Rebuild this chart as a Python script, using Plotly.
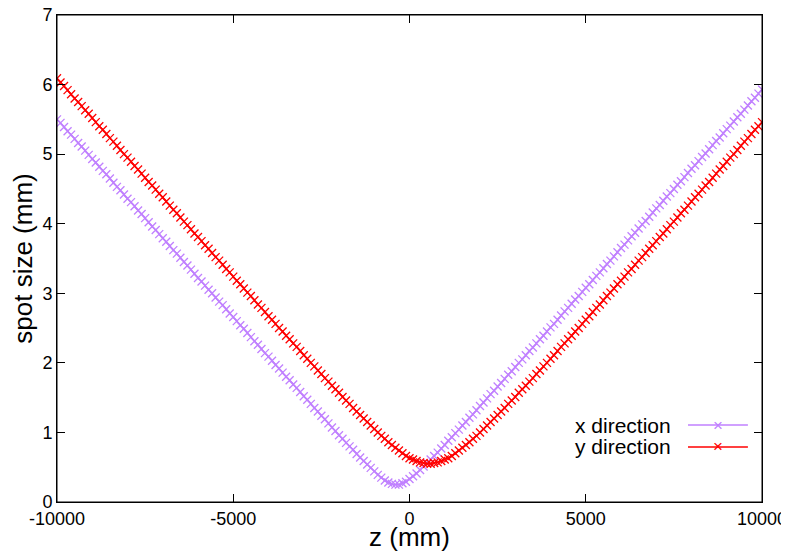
"""
Beam spot size along z for the x and y directions (gnuplot-style look).
"""

import plotly.graph_objects as go

# ---------------------------------------------------------------------
# Data: z sample positions (mm) and spot sizes (mm)
# ---------------------------------------------------------------------

z_mm = list(range(-10000, 10001, 100))

spot_x = [
    5.50, 5.45, 5.39, 5.33, 5.28, 5.22, 5.16, 5.11, 5.05, 4.99,
    4.93, 4.88, 4.82, 4.76, 4.71, 4.65, 4.59, 4.53, 4.48, 4.42,
    4.36, 4.31, 4.25, 4.19, 4.14, 4.08, 4.02, 3.96, 3.91, 3.85,
    3.79, 3.74, 3.68, 3.62, 3.57, 3.51, 3.45, 3.40, 3.34, 3.28,
    3.22, 3.17, 3.11, 3.05, 3.00, 2.94, 2.88, 2.83, 2.77, 2.71,
    2.66, 2.60, 2.54, 2.49, 2.43, 2.37, 2.31, 2.26, 2.20, 2.14,
    2.09, 2.03, 1.97, 1.92, 1.86, 1.80, 1.75, 1.69, 1.64, 1.58,
    1.52, 1.47, 1.41, 1.35, 1.30, 1.24, 1.19, 1.13, 1.07, 1.02,
    0.96, 0.91, 0.85, 0.80, 0.75, 0.69, 0.64, 0.59, 0.54, 0.49,
    0.44, 0.39, 0.35, 0.31, 0.28, 0.26, 0.25,
    0.25, 0.27, 0.29, 0.33, 0.37, 0.41, 0.46, 0.51, 0.56, 0.61,
    0.66, 0.71, 0.77, 0.82, 0.88, 0.93, 0.99, 1.04, 1.10, 1.15,
    1.21, 1.26, 1.32, 1.38, 1.43, 1.49, 1.55, 1.60, 1.66, 1.71,
    1.77, 1.83, 1.88, 1.94, 2.00, 2.05, 2.11, 2.17, 2.22, 2.28,
    2.34, 2.39, 2.45, 2.51, 2.56, 2.62, 2.68, 2.74, 2.79, 2.85,
    2.91, 2.96, 3.02, 3.08, 3.13, 3.19, 3.25, 3.30, 3.36, 3.42,
    3.47, 3.53, 3.59, 3.65, 3.70, 3.76, 3.82, 3.87, 3.93, 3.99,
    4.04, 4.10, 4.16, 4.22, 4.27, 4.33, 4.39, 4.44, 4.50, 4.56,
    4.61, 4.67, 4.73, 4.79, 4.84, 4.90, 4.96, 5.01, 5.07, 5.13,
    5.19, 5.24, 5.30, 5.36, 5.41, 5.47, 5.53, 5.58, 5.64, 5.70,
    5.76, 5.81, 5.87, 5.93,
]

spot_y = [
    6.09, 6.03, 5.98, 5.92, 5.86, 5.80, 5.75, 5.69, 5.63, 5.58,
    5.52, 5.46, 5.40, 5.35, 5.29, 5.23, 5.18, 5.12, 5.06, 5.00,
    4.95, 4.89, 4.83, 4.78, 4.72, 4.66, 4.60, 4.55, 4.49, 4.43,
    4.38, 4.32, 4.26, 4.20, 4.15, 4.09, 4.03, 3.98, 3.92, 3.86,
    3.81, 3.75, 3.69, 3.64, 3.58, 3.52, 3.47, 3.41, 3.35, 3.30,
    3.24, 3.18, 3.13, 3.07, 3.01, 2.96, 2.90, 2.84, 2.79, 2.73,
    2.67, 2.62, 2.56, 2.50, 2.45, 2.39, 2.34, 2.28, 2.23, 2.17,
    2.11, 2.06, 2.00, 1.95, 1.89, 1.84, 1.78, 1.73, 1.67, 1.62,
    1.57, 1.51, 1.46, 1.41, 1.35, 1.30, 1.25, 1.20, 1.15, 1.10,
    1.05, 1.00, 0.95, 0.91, 0.86, 0.82, 0.78, 0.74, 0.70, 0.66,
    0.63, 0.61, 0.59, 0.57, 0.56, 0.55,
    0.55, 0.56, 0.57, 0.59, 0.61, 0.63, 0.66, 0.70, 0.74, 0.78,
    0.82, 0.86, 0.91, 0.95, 1.00, 1.05, 1.10, 1.15, 1.20, 1.25,
    1.30, 1.35, 1.41, 1.46, 1.51, 1.57, 1.62, 1.67, 1.73, 1.78,
    1.84, 1.89, 1.95, 2.00, 2.06, 2.11, 2.17, 2.23, 2.28, 2.34,
    2.39, 2.45, 2.50, 2.56, 2.62, 2.67, 2.73, 2.79, 2.84, 2.90,
    2.96, 3.01, 3.07, 3.13, 3.18, 3.24, 3.30, 3.35, 3.41, 3.47,
    3.52, 3.58, 3.64, 3.69, 3.75, 3.81, 3.86, 3.92, 3.98, 4.03,
    4.09, 4.15, 4.20, 4.26, 4.32, 4.38, 4.43, 4.49, 4.55, 4.60,
    4.66, 4.72, 4.78, 4.83, 4.89, 4.95, 5.00, 5.06, 5.12, 5.18,
    5.23, 5.29, 5.35, 5.40, 5.46,
]

x_ticks = [-10000, -5000, 0, 5000, 10000]
x_tick_labels = ["-10000", "-5000", "0", "5000", "10000"]
y_ticks = [0, 1, 2, 3, 4, 5, 6, 7]

series_names = ["x direction", "y direction"]
series_colors = ["#c080ff", "#ff0000"]

FONT = "Liberation Sans, Arial, sans-serif"

fig = go.Figure()

for name, values, color in zip(series_names, [spot_x, spot_y], series_colors):
    fig.add_trace(go.Scatter(
        x=z_mm,
        y=values,
        name=name,
        mode="lines+markers",
        line=dict(color=color, width=1.5),
        marker=dict(symbol="x-thin", size=8, line=dict(color=color, width=1.3)),
        showlegend=False,
    ))

# gnuplot-like key at the lower right: text, then a line sample with a cross
key_rows = [0.158, 0.113]
for name, color, ky in zip(series_names, series_colors, key_rows):
    fig.add_annotation(
        x=0.874, y=ky, xref="paper", yref="paper",
        text=name, showarrow=False, xanchor="right", yanchor="middle",
        font=dict(family=FONT, size=21, color="black"),
    )
    fig.add_shape(
        type="line", xref="paper", yref="paper",
        x0=0.895, x1=0.980, y0=ky, y1=ky,
        line=dict(color=color, width=1.5),
    )
    fig.add_annotation(
        x=0.9375, y=ky, xref="paper", yref="paper",
        text="×", showarrow=False, xanchor="center", yanchor="middle",
        font=dict(family=FONT, size=17, color=color),
    )

# full border box round the plot area
fig.add_shape(
    type="rect", xref="paper", yref="paper",
    x0=0, x1=1, y0=0, y1=1,
    line=dict(color="black", width=1),
    layer="above",
)

axis_common = dict(
    showgrid=False,
    zeroline=False,
    showline=True,
    linecolor="black",
    linewidth=1,
    mirror="ticks",
    ticks="inside",
    ticklen=8,
    tickcolor="black",
    tickwidth=1,
    automargin=False,
    ticklabeloverflow="allow",
    tickfont=dict(family=FONT, size=18, color="black"),
)

fig.update_xaxes(
    range=[-10000, 10000],
    tickvals=x_ticks,
    ticktext=x_tick_labels,
    title=dict(text="z (mm)", font=dict(family=FONT, size=26, color="black"), standoff=5),
    **axis_common,
)
fig.update_yaxes(
    range=[0, 7],
    tickvals=y_ticks,
    title=dict(text="spot size (mm)", font=dict(family=FONT, size=26, color="black"), standoff=8),
    **axis_common,
)

# the page body adds an 8px offset, so the figure is 8px smaller each way
fig.update_layout(
    width=781,
    height=544,
    margin=dict(l=49, r=27, t=7, b=50),
    plot_bgcolor="white",
    paper_bgcolor="white",
)

fig.write_html("out.html")
